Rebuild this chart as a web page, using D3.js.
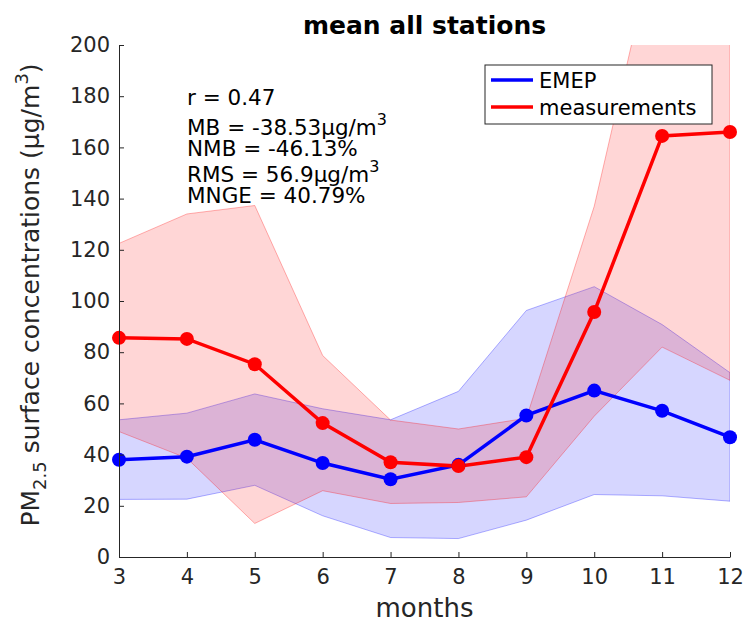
<!DOCTYPE html>
<html>
<head>
<meta charset="utf-8">
<script src="https://cdn.jsdelivr.net/npm/d3@7"></script>
<style>
  body { margin: 0; background: #fff; }
  text { font-family: "DejaVu Sans", sans-serif; }
</style>
</head>
<body>
<div id="main"></div>
<script>
/* data */
const months = [3, 4, 5, 6, 7, 8, 9, 10, 11, 12];
const emepMean = [38, 39.2, 45.8, 36.7, 30.4, 36, 55.3, 65, 57.1, 46.8];
const emepUpper = [53.6, 56.2, 63.7, 57.9, 53.6, 64.7, 96.3, 105.6, 90.8, 72];
const emepLower = [22.5, 22.6, 28, 16.1, 7.6, 7.2, 14.4, 24.4, 23.9, 21.8];
const measMean = [85.6, 85.2, 75.3, 52.3, 37, 35.5, 39, 95.7, 164.5, 166];
const measUpper = [122.5, 134, 137.3, 78.7, 53.5, 50, 54.2, 137, 252, 262];
const measLower = [49, 38.6, 13.1, 25.9, 20.9, 21.3, 23.5, 55, 82, 69];
const yTicks = [0, 20, 40, 60, 80, 100, 120, 140, 160, 180, 200];
const statsLines = ["r = 0.47", "MB = -38.53\u03bcg/m", "NMB = -46.13%", "RMS = 56.9\u03bcg/m", "MNGE = 40.79%"];

/* layout */
const svgWidth = 747;
const svgHeight = 623;
const plot = { l: 119, r: 730, t: 45, b: 557 };
const axisColor = '#262626';

const svg = d3.select('#main').append('svg')
  .attr('width', svgWidth)
  .attr('height', svgHeight);

const x = d3.scaleLinear().domain([3, 12]).range([plot.l, plot.r]);
const y = d3.scaleLinear().domain([0, 200]).range([plot.b, plot.t]);

// clip for the bands going past 200
svg.append('clipPath').attr('id', 'clip')
  .append('rect')
  .attr('x', plot.l).attr('y', plot.t)
  .attr('width', plot.r - plot.l).attr('height', plot.b - plot.t);

const g = svg.append('g').attr('clip-path', 'url(#clip)');

function band(upper, lower, color) {
  const area = d3.area()
    .x((d, i) => x(months[i]))
    .y0((d, i) => y(lower[i]))
    .y1(d => y(d));
  g.append('path')
    .attr('d', area(upper))
    .attr('fill', color)
    .attr('fill-opacity', 0.16)
    .attr('stroke', color)
    .attr('stroke-opacity', 0.3)
    .attr('stroke-width', 1);
}

band(emepUpper, emepLower, 'rgb(0,0,255)');
band(measUpper, measLower, 'rgb(255,0,0)');

const line = d3.line()
  .x((d, i) => x(months[i]))
  .y(d => y(d));

function series(vals, color) {
  g.append('path')
    .attr('d', line(vals))
    .attr('fill', 'none')
    .attr('stroke', color)
    .attr('stroke-width', 3.5);
  svg.append('g').selectAll('circle')
    .data(vals)
    .enter().append('circle')
    .attr('cx', (d, i) => x(months[i]))
    .attr('cy', d => y(d))
    .attr('r', 7)
    .attr('fill', color);
}

series(emepMean, 'rgb(0,0,255)');
series(measMean, 'rgb(255,0,0)');

// axes, ticks pointing inward
const xAxis = svg.append('g')
  .attr('transform', `translate(0,${plot.b})`)
  .call(d3.axisBottom(x).tickValues(months).tickSizeInner(-5).tickSizeOuter(0).tickPadding(12));
const yAxis = svg.append('g')
  .attr('transform', `translate(${plot.l},0)`)
  .call(d3.axisLeft(y).tickValues(yTicks).tickSizeInner(-5).tickSizeOuter(0).tickPadding(9));

[xAxis, yAxis].forEach(a => {
  a.selectAll('path, line').attr('stroke', axisColor).attr('stroke-width', 1);
  a.selectAll('text').attr('fill', axisColor).style('font-size', '21px');
});

// title
svg.append('text')
  .attr('x', (plot.l + plot.r) / 2)
  .attr('y', 34)
  .attr('text-anchor', 'middle')
  .style('font-size', '25px')
  .style('font-weight', 'bold')
  .text('mean all stations');

// x label
svg.append('text')
  .attr('x', (plot.l + plot.r) / 2)
  .attr('y', 617)
  .attr('text-anchor', 'middle')
  .attr('fill', axisColor)
  .style('font-size', '26px')
  .text('months');

// y label
const yl = svg.append('text')
  .attr('transform', `translate(39,${(plot.t + plot.b) / 2 - 6}) rotate(-90)`)
  .attr('text-anchor', 'middle')
  .attr('fill', axisColor)
  .style('font-size', '25px');
yl.append('tspan').text('PM');
yl.append('tspan').attr('dy', 7).style('font-size', '18px').text('2.5');
yl.append('tspan').attr('dy', -7).text(' surface concentrations (\u03bcg/m');
yl.append('tspan').attr('dy', -11).style('font-size', '18px').text('3');
yl.append('tspan').attr('dy', 11).text(')');

// statistics text
const statsY = [105, 135, 156, 182, 203];
statsLines.forEach((s, i) => {
  const t = svg.append('text')
    .attr('x', 187)
    .attr('y', statsY[i])
    .style('font-size', '21.5px')
    .text(s);
  if (s.endsWith('/m')) {
    t.append('tspan').attr('dy', -10).style('font-size', '16px').text('3');
  }
});

// legend
const legend = svg.append('g').attr('transform', 'translate(485,65)');
legend.append('rect')
  .attr('width', 227).attr('height', 59)
  .attr('fill', '#fff')
  .attr('stroke', axisColor).attr('stroke-width', 1);
const legendItems = [['EMEP', 'rgb(0,0,255)'], ['measurements', 'rgb(255,0,0)']];
legendItems.forEach((d, i) => {
  const ly = 15 + i * 27;
  legend.append('line')
    .attr('x1', 6).attr('x2', 48)
    .attr('y1', ly).attr('y2', ly)
    .attr('stroke', d[1]).attr('stroke-width', 3.5);
  legend.append('text')
    .attr('x', 54).attr('y', ly + 8)
    .style('font-size', '21px')
    .text(d[0]);
});
</script>
</body>
</html>
